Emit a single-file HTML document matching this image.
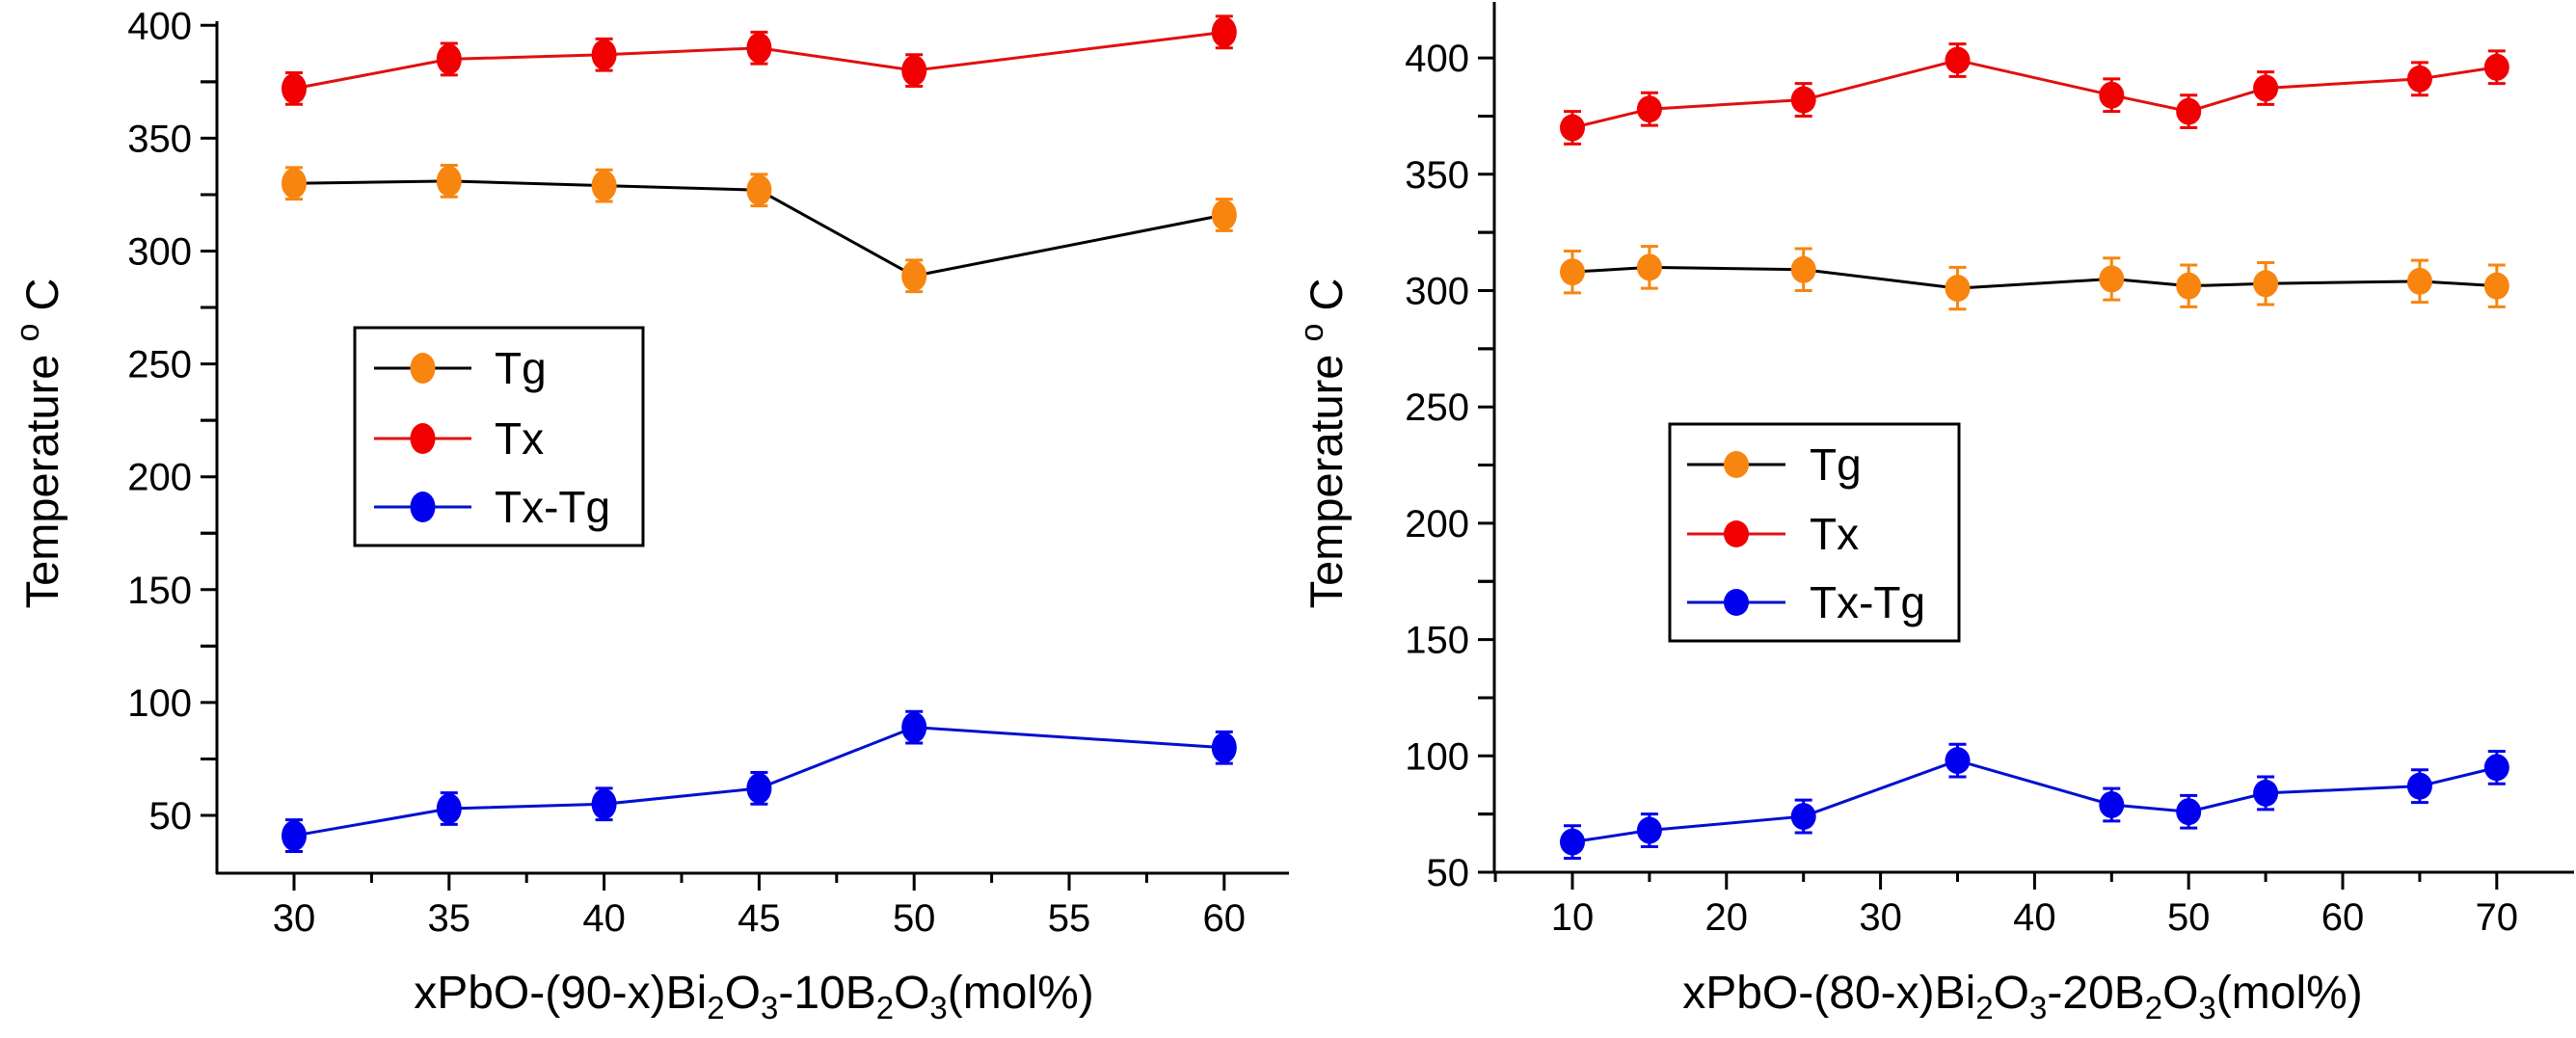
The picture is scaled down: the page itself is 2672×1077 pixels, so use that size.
<!DOCTYPE html>
<html><head><meta charset="utf-8"><style>
html,body{margin:0;padding:0;background:#fff;}
svg{display:block;font-family:"Liberation Sans",Arial,sans-serif;}
</style></head><body>
<svg id="chart" width="2672" height="1077" viewBox="0 0 2672 1077" xmlns="http://www.w3.org/2000/svg"></svg>
<script>
// Left panel data
const leftX = [30, 35, 40, 45, 50, 60];
const leftTg = [330, 331, 329, 327, 289, 316];
const leftTx = [372, 385, 387, 390, 380, 397];
const leftDiff = [41, 53, 55, 62, 89, 80];
const leftXTicks = [30, 35, 40, 45, 50, 55, 60];
const leftYTicks = [50, 100, 150, 200, 250, 300, 350, 400];
// Right panel data
const rightX = [10, 15, 25, 35, 45, 50, 55, 65, 70];
const rightTg = [308, 310, 309, 301, 305, 302, 303, 304, 302];
const rightTx = [370, 378, 382, 399, 384, 377, 387, 391, 396];
const rightDiff = [63, 68, 74, 98, 79, 76, 84, 87, 95];
const rightXTicks = [10, 20, 30, 40, 50, 60, 70];
const rightYTicks = [50, 100, 150, 200, 250, 300, 350, 400];

const NS = "http://www.w3.org/2000/svg";
const svg = document.getElementById('chart');
function mk(tag, attrs, parent) {
  const e = document.createElementNS(NS, tag);
  for (const k in attrs) e.setAttribute(k, attrs[k]);
  (parent || svg).appendChild(e);
  return e;
}

function panel(cfg) {
  const g = mk('g', {});
  
  
  const sx = v => cfg.x0 + (v - cfg.xv0) * cfg.xs;
  const sy = v => cfg.y0 - (v - cfg.yv0) * cfg.ys;
  const ya = mk('line', {x1: cfg.axX, y1: cfg.axTop, x2: cfg.axX, y2: cfg.axY + 1, stroke: '#000', 'stroke-width': 3}, g);
  
  
  const xa = mk('line', {x1: cfg.axX - 1, y1: cfg.axY, x2: cfg.axRight, y2: cfg.axY, stroke: '#000', 'stroke-width': 3}, g);
  
  
  for (let i = 0; i < cfg.yTicks.length; i++) {
    const v = cfg.yTicks[i];
    const t = mk('line', {x1: cfg.axX - 17, y1: sy(v), x2: cfg.axX, y2: sy(v), stroke: '#000', 'stroke-width': 3}, g);
    
    
    const lb = mk('text', {x: cfg.axX - 26, y: sy(v) + 14, 'text-anchor': 'end', 'font-size': 40}, g);
    lb.textContent = v;
    
    
    const mv = v + 25;
    if (sy(mv) > cfg.axTop) {
      const m = mk('line', {x1: cfg.axX - 17, y1: sy(mv), x2: cfg.axX, y2: sy(mv), stroke: '#000', 'stroke-width': 3}, g);
      
      
    }
    const lv = v - 25;
    if (sy(lv) < cfg.axY - 5) {
      const m = mk('line', {x1: cfg.axX - 17, y1: sy(lv), x2: cfg.axX, y2: sy(lv), stroke: '#000', 'stroke-width': 3}, g);
      
      
    }
  }
  const step = cfg.xTicks[1] - cfg.xTicks[0];
  for (let i = 0; i < cfg.xTicks.length; i++) {
    const v = cfg.xTicks[i];
    const t = mk('line', {x1: sx(v), y1: cfg.axY, x2: sx(v), y2: cfg.axY + 18, stroke: '#000', 'stroke-width': 3}, g);
    
    
    const lb = mk('text', {x: sx(v), y: cfg.axY + 60, 'text-anchor': 'middle', 'font-size': 40}, g);
    lb.textContent = v;
    
    
  }
  for (let v = cfg.xTicks[0] - step / 2; sx(v) < cfg.axRight - 2; v += step) {
    if (sx(v) <= cfg.axX) continue;
    const m = mk('line', {x1: sx(v), y1: cfg.axY, x2: sx(v), y2: cfg.axY + 10, stroke: '#000', 'stroke-width': 3}, g);
    
    
  }
  const yt = mk('text', {x: 0, y: 0, 'font-size': 47, 'text-anchor': 'middle', transform: `translate(${cfg.ytX},${cfg.ytY}) rotate(-90)`}, g);
  yt.innerHTML = 'Temperature <tspan dy="-20" font-size="34">o</tspan><tspan dy="20"> C</tspan>';
  
  
  const xt = mk('text', {x: cfg.xtX, y: 1046, 'font-size': 48, 'text-anchor': 'middle'}, g);
  xt.innerHTML = cfg.xTitle;
  
  
  const series = [
    {vals: cfg.tg, line: '#000', fill: '#f7850f', name: 'tg', err: cfg.errTg},
    {vals: cfg.tx, line: '#e01010', fill: '#f00000', name: 'tx', err: cfg.err},
    {vals: cfg.diff, line: '#0010d0', fill: '#0000ee', name: 'tx-tg', err: cfg.err}
  ];
  series.forEach(s => {
    const pts = cfg.xs_.map((x, i) => `${sx(x)},${sy(s.vals[i])}`).join(' ');
    const pl = mk('polyline', {points: pts, fill: 'none', stroke: s.line, 'stroke-width': 3}, g);
    
    
    cfg.xs_.forEach((x, i) => {
      const cx = sx(x), cy = sy(s.vals[i]);
      const e1 = sy(s.vals[i] + s.err), e2 = sy(s.vals[i] - s.err);
      const eb = mk('path', {d: `M${cx},${e1}V${e2}M${cx - 9},${e1}H${cx + 9}M${cx - 9},${e2}H${cx + 9}`, stroke: s.fill, 'stroke-width': 3, fill: 'none'}, g);
      
      
      const p = mk('ellipse', {cx: cx, cy: cy, rx: 13, ry: cfg.ry, fill: s.fill}, g);
      
      
    });
  });
  const lg = mk('g', {}, g);
  
  
  const L = cfg.leg;
  mk('rect', {x: L.x, y: L.y, width: L.w, height: L.h, fill: '#fff', stroke: '#000', 'stroke-width': 3}, lg);
  const labels = ['Tg', 'Tx', 'Tx-Tg'];
  series.forEach((s, i) => {
    const ey = L.ey[i];
    const en = mk('g', {}, lg);
    
    
    mk('line', {x1: L.lx1, y1: ey, x2: L.lx2, y2: ey, stroke: s.line, 'stroke-width': 3}, en);
    mk('ellipse', {cx: (L.lx1 + L.lx2) / 2, cy: ey, rx: 13, ry: cfg.ry, fill: s.fill}, en);
    const t = mk('text', {x: L.tx, y: ey + 16, 'font-size': 46}, en);
    t.textContent = labels[i];
  });
}

const sub = '<tspan dy="11" font-size="33">';
panel({
  name: 'left-panel', x0: 305, xv0: 30, xs: 160.8 / 5, y0: 846, yv0: 50, ys: 117.1 / 50,
  axX: 225, axTop: 22, axY: 906, axRight: 1337,
  xTicks: leftXTicks, yTicks: leftYTicks, xs_: leftX, tg: leftTg, tx: leftTx, diff: leftDiff,
  err: 7, errTg: 7, ry: 16,
  ytX: 60, ytY: 460, xtX: 782,
  xTitle: 'xPbO-(90-x)Bi' + sub + '2</tspan><tspan dy="-11">O</tspan>' + sub + '3</tspan><tspan dy="-11">-10B</tspan>' + sub + '2</tspan><tspan dy="-11">O</tspan>' + sub + '3</tspan><tspan dy="-11">(mol%)</tspan>',
  leg: {x: 368, y: 340, w: 299, h: 226, ey: [382, 455, 526], lx1: 388, lx2: 489, tx: 513}
});
panel({
  name: 'right-panel', x0: 1631, xv0: 10, xs: 159.8 / 10, y0: 905, yv0: 50, ys: 120.7 / 50,
  axX: 1550, axTop: 2, axY: 905, axRight: 2670,
  xTicks: rightXTicks, yTicks: rightYTicks, xs_: rightX, tg: rightTg, tx: rightTx, diff: rightDiff,
  err: 7, errTg: 9, ry: 14,
  ytX: 1392, ytY: 460, xtX: 2098,
  xTitle: 'xPbO-(80-x)Bi' + sub + '2</tspan><tspan dy="-11">O</tspan>' + sub + '3</tspan><tspan dy="-11">-20B</tspan>' + sub + '2</tspan><tspan dy="-11">O</tspan>' + sub + '3</tspan><tspan dy="-11">(mol%)</tspan>',
  leg: {x: 1732, y: 440, w: 300, h: 225, ey: [482, 554, 625], lx1: 1750, lx2: 1852, tx: 1877}
});
</script>
</body></html>
